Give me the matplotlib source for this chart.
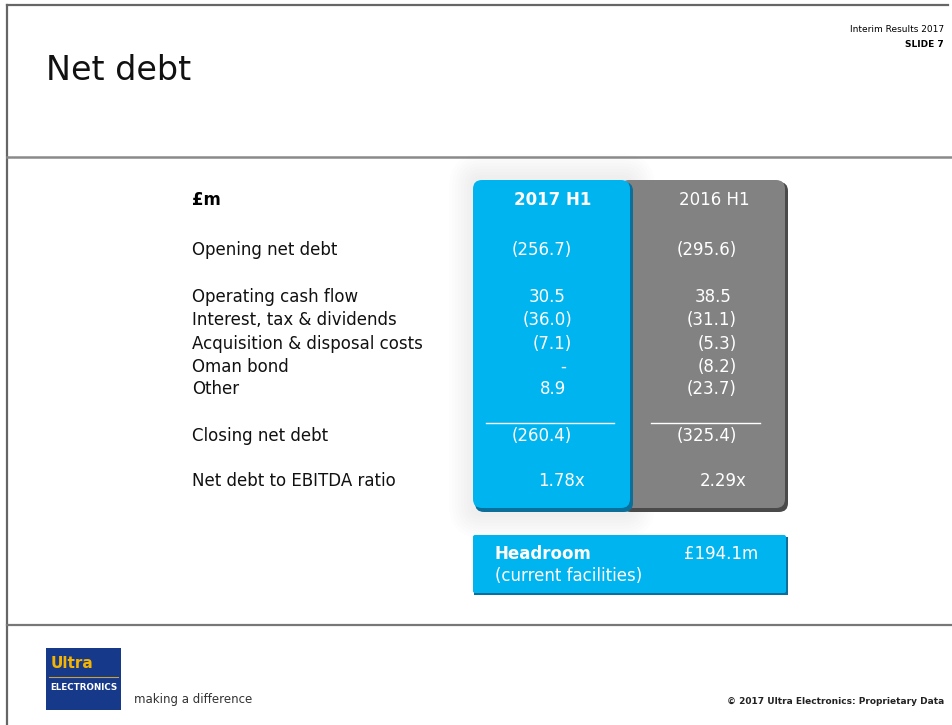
import matplotlib.pyplot as plt
from matplotlib.patches import FancyBboxPatch, Rectangle

plt.rcParams['font.family'] = ['DejaVu Sans']

# table content
unit_label = '£m'
col_headers = ['2017 H1', '2016 H1']
row_labels = ['Opening net debt',
              'Operating cash flow', 'Interest, tax & dividends',
              'Acquisition & disposal costs', 'Oman bond', 'Other',
              'Closing net debt', 'Net debt to EBITDA ratio']
vals_2017 = ['(256.7)', '30.5', '(36.0)', '(7.1)', '-', '8.9', '(260.4)', '1.78x']
vals_2016 = ['(295.6)', '38.5', '(31.1)', '(5.3)', '(8.2)', '(23.7)', '(325.4)', '2.29x']
headroom_label = ['Headroom', '(current facilities)']
headroom_value = '£194.1m'

row_y = [250, 297, 320, 344, 367, 389, 436, 481]

BLUE = '#00b4f0'
GREY = '#828282'

fig = plt.figure(figsize=(9.52, 7.25), dpi=100)
ax = fig.add_axes([0, 0, 1, 1])
ax.set_xlim(0, 952)
ax.set_ylim(725, 0)
ax.axis('off')

# slide frame
ax.plot([7, 7], [5, 725], color='#666666', lw=1.6)
ax.plot([7, 948], [5, 5], color='#666666', lw=1.6)
ax.plot([7, 952], [157, 157], color='#8a8a8a', lw=1.8)
ax.plot([7, 952], [625, 625], color='#777777', lw=1.6)

ax.text(46, 70, 'Net debt', fontsize=24, va='center', ha='left', color='#111111')
ax.text(944, 29, 'Interim Results 2017', fontsize=6.5, ha='right', va='center')
ax.text(944, 44, 'SLIDE 7', fontsize=6.5, ha='right', va='center', fontweight='bold')

# soft shadow behind the boxes
for i in range(8):
    g = 3 + 3 * i
    ax.add_patch(FancyBboxPatch((473 - g, 178 - g), 158 + 2 * g, 336 + 2 * g,
                                boxstyle='round,pad=0,rounding_size=%d' % (10 + g),
                                fc='#000000', ec='none', alpha=0.007, zorder=1))

# grey column
ax.add_patch(FancyBboxPatch((622, 182), 166, 330, boxstyle='round,pad=0,rounding_size=9',
                            fc='#4a4a4a', ec='none', zorder=2))
ax.add_patch(FancyBboxPatch((620, 180), 165, 328, boxstyle='round,pad=0,rounding_size=9',
                            fc=GREY, ec='none', zorder=3))
# blue column
ax.add_patch(FancyBboxPatch((475, 182), 158, 330, boxstyle='round,pad=0,rounding_size=9',
                            fc='#0a6f9a', ec='none', zorder=4))
ax.add_patch(FancyBboxPatch((473, 180), 157, 328, boxstyle='round,pad=0,rounding_size=9',
                            fc=BLUE, ec='none', zorder=5))

# headroom box
ax.add_patch(Rectangle((474, 537), 314, 58, fc='#0a6f9a', ec='none', zorder=4))
ax.add_patch(FancyBboxPatch((473, 535), 313, 58, boxstyle='round,pad=0,rounding_size=2',
                            fc=BLUE, ec='none', zorder=5))

# headers
ax.text(192, 200, unit_label, fontsize=12, fontweight='bold', va='center', ha='left')
ax.text(553, 200, col_headers[0], fontsize=12, fontweight='bold', va='center', ha='center',
        color='white', zorder=6)
ax.text(714, 200, col_headers[1], fontsize=12, va='center', ha='center',
        color='white', zorder=6)

for lab, y, a, b in zip(row_labels, row_y, vals_2017, vals_2016):
    ax.text(192, y, lab, fontsize=12, va='center', ha='left', color='#111111')
    if a.endswith('x'):
        ax.text(562, y, a, fontsize=12, va='center', ha='center', color='white', zorder=6)
        ax.text(723, y, b, fontsize=12, va='center', ha='center', color='white', zorder=6)
        continue
    xa = 572 if a.startswith('(') else 566
    xb = 737 if b.startswith('(') else 732
    ax.text(xa, y, a, fontsize=12, va='center', ha='right', color='white', zorder=6)
    ax.text(xb, y, b, fontsize=12, va='center', ha='right', color='white', zorder=6)

# total rules
ax.plot([486, 614], [423, 423], color='white', lw=1, zorder=6)
ax.plot([651, 760], [423, 423], color='white', lw=1, zorder=6)

ax.text(495, 554, headroom_label[0], fontsize=12, fontweight='bold', va='center',
        ha='left', color='white', zorder=6)
ax.text(495, 576, headroom_label[1], fontsize=12, va='center', ha='left',
        color='white', zorder=6)
ax.text(758, 554, headroom_value, fontsize=12, va='center', ha='right',
        color='white', zorder=6)

# footer logo
ax.add_patch(Rectangle((46, 648), 75, 62, fc='#17398a', ec='none'))
ax.text(51, 664, 'Ultra', fontsize=11, fontweight='bold', color='#f5b400', va='center', ha='left')
ax.plot([49, 118], [677, 677], color='#c9a23a', lw=0.8)
ax.text(50, 688, 'ELECTRONICS', fontsize=6.3, fontweight='bold', color='white',
        va='center', ha='left')
ax.text(134, 700, 'making a difference', fontsize=8.5, color='#333333', va='center', ha='left')
ax.text(944, 702, '© 2017 Ultra Electronics: Proprietary Data', fontsize=6.5,
        fontweight='bold', ha='right', va='center', color='#222222')

fig.savefig('out.png', dpi=100)
